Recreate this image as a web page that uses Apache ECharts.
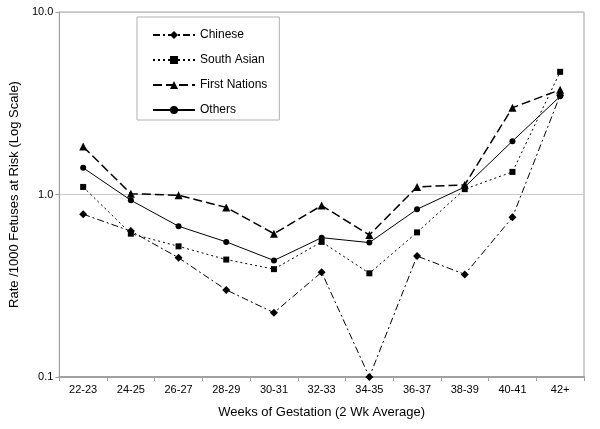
<!DOCTYPE html>
<html>
<head>
<meta charset="utf-8">
<script src="https://cdn.jsdelivr.net/npm/echarts@6/dist/echarts.min.js"></script>
<style>html,body{margin:0;padding:0;background:#fff}#c{width:600px;height:429px}</style>
</head>
<body>
<div id="c"></div>
<script>
const categories = ['22-23','24-25','26-27','28-29','30-31','32-33','34-35','36-37','38-39','40-41','42+'];
const chinese = [0.78, 0.63, 0.45, 0.30, 0.225, 0.375, 0.10, 0.46, 0.365, 0.75, 3.5];
const southAsian = [1.10, 0.61, 0.52, 0.44, 0.39, 0.55, 0.37, 0.62, 1.07, 1.33, 4.7];
const firstNations = [1.83, 1.01, 0.99, 0.85, 0.61, 0.87, 0.60, 1.10, 1.13, 2.99, 3.75];
const others = [1.40, 0.93, 0.67, 0.55, 0.435, 0.58, 0.545, 0.83, 1.10, 1.96, 3.45];
const yTicks = [0.1, 1, 10];

const chart = echarts.init(document.getElementById('c'), null, {renderer: 'canvas'});
const font = 'Liberation Sans, Arial, sans-serif';
function mk(name, data, symbol, size, lineType, width) {
  return {
    name, type: 'line', data, symbol, symbolSize: size,
    itemStyle: {color: '#000'},
    lineStyle: {color: '#000', width: width, type: lineType},
    emphasis: {disabled: true}
  };
}
chart.setOption({
  animation: false,
  textStyle: {fontFamily: font},
  grid: {left: 51, top: 12, right: 16, bottom: 52, show: true, borderColor: '#a0a0a0', borderWidth: 1},
  legend: {
    orient: 'vertical', left: 137, top: 17,
    padding: [12, 12, 4, 15],
    itemWidth: 42, itemHeight: 10, itemGap: 13,
    borderColor: '#b0b0b0', borderWidth: 1, backgroundColor: '#fff',
    textStyle: {fontFamily: font, fontSize: 12, color: '#000'},
    data: ['Chinese', 'South Asian', 'First Nations', 'Others']
  },
  xAxis: {
    type: 'category', data: categories, boundaryGap: true,
    name: 'Weeks of Gestation (2 Wk Average)', nameLocation: 'middle', nameGap: 29,
    nameTextStyle: {fontFamily: font, fontSize: 13, color: '#000'},
    axisLine: {lineStyle: {color: '#a0a0a0', width: 2}},
    axisTick: {show: true, length: 4, lineStyle: {color: '#a0a0a0'}},
    axisLabel: {fontFamily: font, fontSize: 11, color: '#000', margin: 7, interval: 0}
  },
  yAxis: {
    type: 'log', logBase: 10, min: yTicks[0], max: yTicks[2],
    name: 'Rate /1000 Fetuses at Risk (Log Scale)', nameLocation: 'middle', nameGap: 30,
    nameTextStyle: {fontFamily: font, fontSize: 13, color: '#000'},
    axisLine: {show: true, lineStyle: {color: '#a0a0a0', width: 1}},
    axisTick: {show: true, length: 4, lineStyle: {color: '#a0a0a0'}},
    minorTick: {show: false},
    splitLine: {show: true, lineStyle: {color: '#c8c8c8', width: 1}},
    axisLabel: {fontFamily: font, fontSize: 11, color: '#000', margin: 6,
      formatter: v => Number(v).toFixed(1)}
  },
  series: [
    mk('Chinese', chinese, 'diamond', 8, [7, 3, 2, 3], 1),
    mk('South Asian', southAsian, 'rect', 6, [2, 3], 1),
    mk('First Nations', firstNations, 'triangle', 8, [9, 4], 1.5),
    mk('Others', others, 'circle', 6, 'solid', 1)
  ]
});
</script>
</body>
</html>
